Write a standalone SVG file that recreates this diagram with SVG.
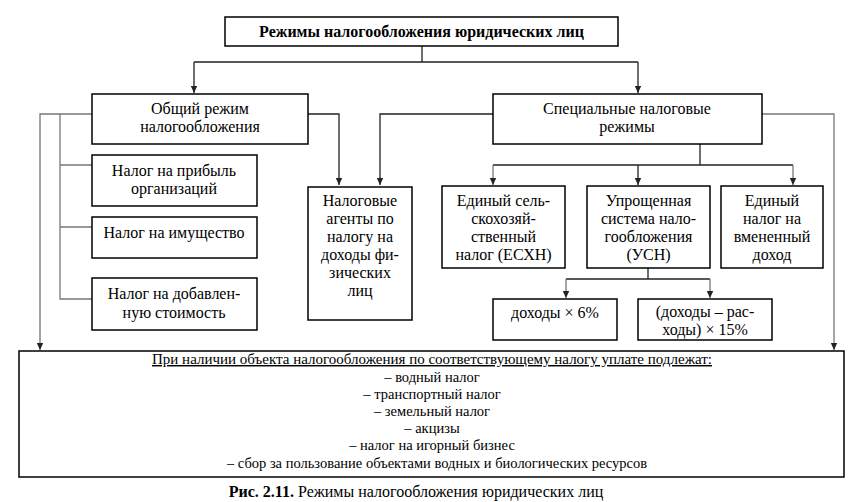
<svg xmlns="http://www.w3.org/2000/svg" width="855" height="502" viewBox="0 0 855 502">
<defs>
<marker id="arr" markerWidth="8" markerHeight="8" refX="7" refY="4" orient="auto" markerUnits="userSpaceOnUse">
<path d="M0,0.8 L7,4 L0,7.2 Z" fill="#222"/>
</marker>
<style>
.box{fill:#fff;stroke:#000;stroke-width:1.5}
.t{font-family:'Liberation Serif','Times New Roman',serif;font-size:16px;fill:#000;text-anchor:middle}
.b{font-weight:bold}
.s{font-size:14.5px}
.c{fill:none;stroke:#222;stroke-width:1.3}
.g{fill:none;stroke:#777;stroke-width:1.3}
</style>
</defs>
<rect width="855" height="502" fill="#fff"/>
<g id="connectors">
<path class="c" d="M422,46 V62 M194,62 H638"/>
<path class="c" d="M194,62 V93" marker-end="url(#arr)"/>
<path class="c" d="M638,62 V93" marker-end="url(#arr)"/>
<path class="g" d="M92,114 H40 V350" marker-end="url(#arr)"/>
<path class="g" d="M60,114 V299 H92 M60,165 H92 M60,227 H92"/>
<path class="c" d="M308,114 H339 V185" marker-end="url(#arr)"/>
<path class="c" d="M493,114 H380 V185" marker-end="url(#arr)"/>
<path class="g" d="M762,114 H834 V350" marker-end="url(#arr)"/>
<path class="c" d="M700,144 V165 M493,165 H793"/>
<path class="g" d="M493,165 V185" marker-end="url(#arr)"/>
<path class="c" d="M638,165 V185" marker-end="url(#arr)"/>
<path class="g" d="M793,165 V185" marker-end="url(#arr)"/>
<path class="c" d="M648,268 V279 M566,279 H710"/>
<path class="g" d="M566,279 V298" marker-end="url(#arr)"/>
<path class="g" d="M710,279 V298" marker-end="url(#arr)"/>
</g>
<g id="root">
<rect class="box" x="225" y="17" width="393" height="29"/>
<text class="t b" x="421.5" y="37">Режимы налогообложения юридических лиц</text>
</g>
<g id="general">
<rect class="box" x="92" y="94" width="216" height="50"/>
<text class="t" x="200" y="114">Общий режим</text>
<text class="t" x="200" y="132">налогообложения</text>
</g>
<g id="special">
<rect class="box" x="493" y="94" width="269" height="50"/>
<text class="t" x="627" y="114">Специальные налоговые</text>
<text class="t" x="627" y="132">режимы</text>
</g>
<g id="profit">
<rect class="box" x="92" y="155" width="165" height="51"/>
<text class="t" x="174" y="176">Налог на прибыль</text>
<text class="t" x="174" y="194">организаций</text>
</g>
<g id="property">
<rect class="box" x="92" y="217" width="165" height="41"/>
<text class="t" x="174" y="238">Налог на имущество</text>
</g>
<g id="vat">
<rect class="box" x="92" y="278" width="165" height="52"/>
<text class="t" x="174" y="299">Налог на добавлен-</text>
<text class="t" x="174" y="318">ную стоимость</text>
</g>
<g id="agents">
<rect class="box" x="308" y="187" width="104" height="133"/>
<text class="t" x="360" y="206">Налоговые</text>
<text class="t" x="360" y="224">агенты по</text>
<text class="t" x="360" y="242">налогу на</text>
<text class="t" x="360" y="260">доходы фи-</text>
<text class="t" x="360" y="278">зических</text>
<text class="t" x="360" y="296">лиц</text>
</g>
<g id="eshn">
<rect class="box" x="442" y="186" width="123" height="82"/>
<text class="t" x="503.5" y="206">Единый сель-</text>
<text class="t" x="503.5" y="224">скохозяй-</text>
<text class="t" x="503.5" y="242">ственный</text>
<text class="t" x="503.5" y="260">налог (ЕСХН)</text>
</g>
<g id="usn">
<rect class="box" x="587" y="186" width="123" height="82"/>
<text class="t" x="648.5" y="206">Упрощенная</text>
<text class="t" x="648.5" y="224">система нало-</text>
<text class="t" x="648.5" y="242">гообложения</text>
<text class="t" x="648.5" y="260">(УСН)</text>
</g>
<g id="envd">
<rect class="box" x="721" y="186" width="102" height="82"/>
<text class="t" x="772" y="206">Единый</text>
<text class="t" x="772" y="224">налог на</text>
<text class="t" x="772" y="242">вмененный</text>
<text class="t" x="772" y="260">доход</text>
</g>
<g id="usn6">
<rect class="box" x="493" y="299" width="124" height="41"/>
<text class="t" x="555" y="318">доходы × 6%</text>
</g>
<g id="usn15">
<rect class="box" x="638" y="299" width="134" height="41"/>
<text class="t" x="705" y="317">(доходы – рас-</text>
<text class="t" x="705" y="335">ходы) × 15%</text>
</g>
<g id="other">
<rect class="box" x="19" y="351" width="825" height="126"/>
<text class="t s" x="432" y="364" text-decoration="underline" textLength="560" lengthAdjust="spacingAndGlyphs">При наличии объекта налогообложения по соответствующему налогу уплате подлежат:</text>
<text class="t s" x="432" y="382">– водный налог</text>
<text class="t s" x="432" y="399">– транспортный налог</text>
<text class="t s" x="432" y="416">– земельный налог</text>
<text class="t s" x="432" y="433">– акцизы</text>
<text class="t s" x="432" y="450">– налог на игорный бизнес</text>
<text class="t s" x="437" y="468">– сбор за пользование объектами водных и биологических ресурсов</text>
</g>
<text class="t" x="416" y="497"><tspan font-weight="bold">Рис. 2.11.</tspan> Режимы налогообложения юридических лиц</text>
</svg>
